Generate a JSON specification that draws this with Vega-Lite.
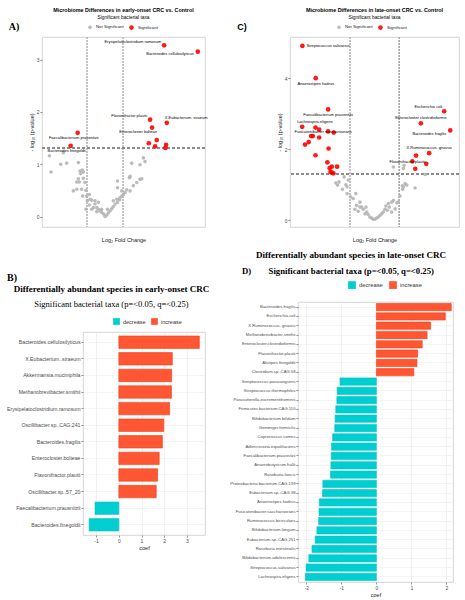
{
  "$schema": "https://vega.github.io/schema/vega-lite/v6.json",
  "padding": {"left": 0, "top": 7, "right": 0, "bottom": 0},
  "background": "white",
  "config": {
    "view": {"stroke": null},
    "font": "Liberation Sans",
    "axis": {"labelFont": "Liberation Sans", "titleFont": "Liberation Sans", "labelColor": "#4d4d4d", "titleColor": "#1a1a1a", "titleFontWeight": "normal", "tickColor": "#4d4d4d", "tickSize": 2, "tickWidth": 0.6, "domain": false, "gridColor": "#ebebeb", "gridWidth": 0.6, "labelFontSize": 5, "titleFontSize": 5.5, "labelPadding": 1, "titlePadding": 2},
    "legend": {"padding": 0, "labelFont": "Liberation Sans"},
    "title": {"font": "Liberation Sans"}
  },
  "resolve": {"scale": {"color": "independent", "size": "independent", "stroke": "independent"}, "legend": {"color": "independent"}},
  "spacing": 18,
  "hconcat": [
    {
      "spacing": 30,
      "resolve": {"scale": {"color": "independent", "size": "independent", "stroke": "independent"}, "legend": {"color": "independent"}},
      "vconcat": [
        {
          "spacing": 0,
          "resolve": {"scale": {"color": "independent", "size": "independent"}, "legend": {"color": "independent"}},
          "hconcat": [
            {"width": 28, "height": 2, "data": {"values": [{"t": "A)"}]}, "mark": {"type": "text", "font": "Liberation Serif", "fontWeight": "bold", "fontSize": 10, "dy": -11, "color": "#000"}, "encoding": {"text": {"field": "t", "type": "nominal"}}},
            {
              "width": 163, "height": 190,
              "view": {"stroke": "#cccccc", "strokeWidth": 0.8},
              "title": {"text": "Microbiome Differences in early-onset CRC vs. Control", "subtitle": "Significant bacterial taxa", "fontSize": 5.4, "fontWeight": "bold", "subtitleFontSize": 4.8, "subtitleColor": "#000", "subtitlePadding": 2, "offset": 4, "anchor": "middle", "frame": "group"},
              "data": {"values": [
                {"lfc": -3.09, "nlp": 1.16, "sig": "Not Significant", "lab": ""},
                {"lfc": -3.0, "nlp": 0.85, "sig": "Not Significant", "lab": ""},
                {"lfc": -2.46, "nlp": 1.0, "sig": "Not Significant", "lab": ""},
                {"lfc": -2.13, "nlp": 1.02, "sig": "Not Significant", "lab": ""},
                {"lfc": -1.48, "nlp": 1.03, "sig": "Not Significant", "lab": ""},
                {"lfc": -2.31, "nlp": 1.22, "sig": "Not Significant", "lab": ""},
                {"lfc": -1.39, "nlp": 0.87, "sig": "Not Significant", "lab": ""},
                {"lfc": -1.26, "nlp": 0.89, "sig": "Not Significant", "lab": ""},
                {"lfc": -1.35, "nlp": 0.82, "sig": "Not Significant", "lab": ""},
                {"lfc": -1.2, "nlp": 0.85, "sig": "Not Significant", "lab": ""},
                {"lfc": -1.48, "nlp": 0.72, "sig": "Not Significant", "lab": ""},
                {"lfc": -1.2, "nlp": 0.73, "sig": "Not Significant", "lab": ""},
                {"lfc": -1.43, "nlp": 0.66, "sig": "Not Significant", "lab": ""},
                {"lfc": -1.11, "nlp": 0.65, "sig": "Not Significant", "lab": ""},
                {"lfc": -1.57, "nlp": 0.66, "sig": "Not Significant", "lab": ""},
                {"lfc": -1.76, "nlp": 0.49, "sig": "Not Significant", "lab": ""},
                {"lfc": -1.57, "nlp": 0.52, "sig": "Not Significant", "lab": ""},
                {"lfc": -1.3, "nlp": 0.52, "sig": "Not Significant", "lab": ""},
                {"lfc": -1.06, "nlp": 0.5, "sig": "Not Significant", "lab": ""},
                {"lfc": -1.24, "nlp": 0.39, "sig": "Not Significant", "lab": ""},
                {"lfc": -1.02, "nlp": 0.39, "sig": "Not Significant", "lab": ""},
                {"lfc": -0.87, "nlp": 0.42, "sig": "Not Significant", "lab": ""},
                {"lfc": -0.83, "nlp": 0.33, "sig": "Not Significant", "lab": ""},
                {"lfc": -0.98, "nlp": 0.3, "sig": "Not Significant", "lab": ""},
                {"lfc": -0.74, "nlp": 0.31, "sig": "Not Significant", "lab": ""},
                {"lfc": -0.56, "nlp": 0.24, "sig": "Not Significant", "lab": ""},
                {"lfc": -0.65, "nlp": 0.17, "sig": "Not Significant", "lab": ""},
                {"lfc": -0.46, "nlp": 0.17, "sig": "Not Significant", "lab": ""},
                {"lfc": -0.37, "nlp": 0.14, "sig": "Not Significant", "lab": ""},
                {"lfc": -0.28, "nlp": 0.11, "sig": "Not Significant", "lab": ""},
                {"lfc": -0.19, "nlp": 0.08, "sig": "Not Significant", "lab": ""},
                {"lfc": -0.09, "nlp": 0.05, "sig": "Not Significant", "lab": ""},
                {"lfc": 0.0, "nlp": 0.0, "sig": "Not Significant", "lab": ""},
                {"lfc": 0.09, "nlp": 0.03, "sig": "Not Significant", "lab": ""},
                {"lfc": 0.19, "nlp": 0.07, "sig": "Not Significant", "lab": ""},
                {"lfc": 0.28, "nlp": 0.11, "sig": "Not Significant", "lab": ""},
                {"lfc": 0.13, "nlp": 0.14, "sig": "Not Significant", "lab": ""},
                {"lfc": 0.37, "nlp": 0.15, "sig": "Not Significant", "lab": ""},
                {"lfc": 0.46, "nlp": 0.19, "sig": "Not Significant", "lab": ""},
                {"lfc": 0.56, "nlp": 0.24, "sig": "Not Significant", "lab": ""},
                {"lfc": 0.46, "nlp": 0.3, "sig": "Not Significant", "lab": ""},
                {"lfc": 0.69, "nlp": 0.27, "sig": "Not Significant", "lab": ""},
                {"lfc": 0.65, "nlp": 0.33, "sig": "Not Significant", "lab": ""},
                {"lfc": 0.8, "nlp": 0.32, "sig": "Not Significant", "lab": ""},
                {"lfc": 0.83, "nlp": 0.36, "sig": "Not Significant", "lab": ""},
                {"lfc": 0.93, "nlp": 0.39, "sig": "Not Significant", "lab": ""},
                {"lfc": 1.02, "nlp": 0.42, "sig": "Not Significant", "lab": ""},
                {"lfc": 0.69, "nlp": 0.55, "sig": "Not Significant", "lab": ""},
                {"lfc": 0.69, "nlp": 0.68, "sig": "Not Significant", "lab": ""},
                {"lfc": 0.93, "nlp": 0.49, "sig": "Not Significant", "lab": ""},
                {"lfc": 1.11, "nlp": 0.46, "sig": "Not Significant", "lab": ""},
                {"lfc": 1.2, "nlp": 0.51, "sig": "Not Significant", "lab": ""},
                {"lfc": 1.39, "nlp": 0.49, "sig": "Not Significant", "lab": ""},
                {"lfc": 1.35, "nlp": 0.74, "sig": "Not Significant", "lab": ""},
                {"lfc": 1.39, "nlp": 0.77, "sig": "Not Significant", "lab": ""},
                {"lfc": 1.57, "nlp": 0.59, "sig": "Not Significant", "lab": ""},
                {"lfc": 1.94, "nlp": 0.71, "sig": "Not Significant", "lab": ""},
                {"lfc": 2.04, "nlp": 0.72, "sig": "Not Significant", "lab": ""},
                {"lfc": 1.48, "nlp": 1.02, "sig": "Not Significant", "lab": ""},
                {"lfc": 1.94, "nlp": 0.99, "sig": "Not Significant", "lab": ""},
                {"lfc": 2.13, "nlp": 1.12, "sig": "Not Significant", "lab": ""},
                {"lfc": 2.22, "nlp": 1.05, "sig": "Not Significant", "lab": ""},
                {"lfc": 1.76, "nlp": 0.65, "sig": "Not Significant", "lab": ""},
                {"lfc": -0.56, "nlp": 0.3, "sig": "Not Significant", "lab": ""},
                {"lfc": -0.37, "nlp": 0.27, "sig": "Not Significant", "lab": ""},
                {"lfc": -0.74, "nlp": 0.14, "sig": "Not Significant", "lab": ""},
                {"lfc": -0.46, "nlp": 0.09, "sig": "Not Significant", "lab": ""},
                {"lfc": -0.19, "nlp": 0.14, "sig": "Not Significant", "lab": ""},
                {"lfc": -0.87, "nlp": 0.22, "sig": "Not Significant", "lab": ""},
                {"lfc": -1.06, "nlp": 0.14, "sig": "Not Significant", "lab": ""},
                {"lfc": 3.28, "nlp": 3.27, "sig": "Significant", "lab": "Erysipelatoclostridium ramosum"},
                {"lfc": 5.15, "nlp": 3.15, "sig": "Significant", "lab": "Bacteroides cellulosilyticus"},
                {"lfc": 2.5, "nlp": 1.85, "sig": "Significant", "lab": "Flavonifractor plautii"},
                {"lfc": 3.43, "nlp": 1.79, "sig": "Significant", "lab": "X.Eubacterium. siraeum"},
                {"lfc": 2.61, "nlp": 1.7, "sig": "Significant", "lab": "Enterocloster bolteae"},
                {"lfc": -1.52, "nlp": 1.6, "sig": "Significant", "lab": "Faecalibacterium prausnitzii"},
                {"lfc": -1.91, "nlp": 1.35, "sig": "Significant", "lab": "Bacteroides finegoldii"},
                {"lfc": 2.43, "nlp": 1.4, "sig": "Significant", "lab": ""},
                {"lfc": 2.87, "nlp": 1.46, "sig": "Significant", "lab": ""},
                {"lfc": 2.78, "nlp": 1.34, "sig": "Significant", "lab": ""},
                {"lfc": 3.39, "nlp": 1.37, "sig": "Significant", "lab": ""},
                {"lfc": 3.35, "nlp": 1.31, "sig": "Significant", "lab": ""}
              ]},
              "layer": [
                {"mark": {"type": "rule", "color": "#c4c4c4", "strokeDash": [1.5, 1.5], "strokeWidth": 0.7}, "encoding": {"x": {"datum": -1, "type": "quantitative"}}},
                {"mark": {"type": "rule", "color": "#c4c4c4", "strokeDash": [1.5, 1.5], "strokeWidth": 0.7}, "encoding": {"x": {"datum": 1, "type": "quantitative"}}},
                {"mark": {"type": "rule", "color": "#8c8c8c", "strokeDash": [3, 2], "strokeWidth": 0.7}, "encoding": {"y": {"datum": 1.301, "type": "quantitative"}}},
                {
                  "mark": {"type": "point", "filled": true, "opacity": 0.9},
                  "encoding": {
                    "x": {"field": "lfc", "type": "quantitative", "scale": {"domain": [-3.5, 5.55], "nice": false, "zero": false},
                      "axis": {"title": "Log₂ Fold Change", "values": [-3, -2, -1, 0, 1, 2, 3, 4, 5], "labelExpr": "datum.value % 2 == 0 ? '' + datum.value : ''", "gridColor": {"condition": {"test": "datum.value % 2 == 0", "value": "#e6e6e6"}, "value": "#f4f4f4"}, "tickColor": {"condition": {"test": "datum.value % 2 == 0", "value": "#4d4d4d"}, "value": "transparent"}}},
                    "y": {"field": "nlp", "type": "quantitative", "scale": {"domain": [-0.2, 3.43], "nice": false, "zero": false},
                      "axis": {"title": "- log₁₀ (p-value)", "values": [0, 0.5, 1, 1.5, 2, 2.5, 3], "labelExpr": "datum.value % 1 == 0 ? '' + datum.value : ''", "gridColor": {"condition": {"test": "datum.value % 1 == 0", "value": "#e6e6e6"}, "value": "#f4f4f4"}, "tickColor": {"condition": {"test": "datum.value % 1 == 0", "value": "#4d4d4d"}, "value": "transparent"}}},
                    "color": {"field": "sig", "type": "nominal", "scale": {"domain": ["Not Significant", "Significant"], "range": ["#b5b5b5", "#ff0000"]},
                      "legend": {"title": null, "orient": "none", "direction": "horizontal", "legendX": 45, "legendY": -13, "labelFontSize": 4.3, "labelColor": "#1a1a1a", "symbolSize": 14, "symbolType": "circle", "columnPadding": 4, "labelOffset": 3}},
                    "size": {"field": "sig", "type": "nominal", "scale": {"domain": ["Not Significant", "Significant"], "range": [13, 22]}, "legend": null}
                  }
                },
                {"transform": [{"filter": {"field": "lab", "oneOf": ["Erysipelatoclostridium ramosum", "Flavonifractor plautii"]}}], "mark": {"type": "text", "fontSize": 4, "align": "right", "dx": -3, "dy": -3.5, "color": "#000"}, "encoding": {"x": {"field": "lfc", "type": "quantitative"}, "y": {"field": "nlp", "type": "quantitative"}, "text": {"field": "lab"}}},
                {"transform": [{"filter": {"field": "lab", "oneOf": ["Bacteroides cellulosilyticus"]}}], "mark": {"type": "text", "fontSize": 4, "align": "right", "dx": -4, "dy": 2.5, "color": "#000"}, "encoding": {"x": {"field": "lfc", "type": "quantitative"}, "y": {"field": "nlp", "type": "quantitative"}, "text": {"field": "lab"}}},
                {"transform": [{"filter": {"field": "lab", "oneOf": ["Enterocloster bolteae"]}}], "mark": {"type": "text", "fontSize": 4, "align": "right", "dx": 5, "dy": 4.5, "color": "#000"}, "encoding": {"x": {"field": "lfc", "type": "quantitative"}, "y": {"field": "nlp", "type": "quantitative"}, "text": {"field": "lab"}}},
                {"transform": [{"filter": {"field": "lab", "oneOf": ["X.Eubacterium. siraeum"]}}], "mark": {"type": "text", "fontSize": 4, "align": "left", "dx": -2, "dy": -5, "color": "#000"}, "encoding": {"x": {"field": "lfc", "type": "quantitative"}, "y": {"field": "nlp", "type": "quantitative"}, "text": {"field": "lab"}}},
                {"transform": [{"filter": {"field": "lab", "oneOf": ["Faecalibacterium prausnitzii", "Bacteroides finegoldii"]}}], "mark": {"type": "text", "fontSize": 4, "align": "center", "dx": -4, "dy": 5, "color": "#000"}, "encoding": {"x": {"field": "lfc", "type": "quantitative"}, "y": {"field": "nlp", "type": "quantitative"}, "text": {"field": "lab"}}}
              ]
            }
          ]
        },
        {
          "spacing": 0,
          "title": {"text": "B)", "anchor": "start", "frame": "bounds", "font": "Liberation Serif", "fontWeight": "bold", "fontSize": 10, "color": "#000", "offset": 1, "dx": 7},
          "resolve": {"scale": {"color": "independent", "stroke": "independent"}, "legend": {"color": "independent"}},
          "hconcat": [
            {"width": 6, "height": 2, "data": {"values": [{"t": ""}]}, "mark": {"type": "text"}, "encoding": {"text": {"field": "t", "type": "nominal"}}},
            {
              "width": 122, "height": 203,
              "view": {"stroke": "#cccccc", "strokeWidth": 0.8},
              "title": {"text": "Differentially abundant species in early-onset CRC", "subtitle": "Significant bacterial taxa (p=<0.05, q=<0.25)", "font": "Liberation Serif", "fontSize": 9, "fontWeight": "bold", "color": "#000", "subtitleFont": "Liberation Serif", "subtitleFontSize": 8.5, "subtitleColor": "#000", "subtitlePadding": 6, "offset": 10, "anchor": "middle", "frame": "group", "dx": -32.5},
              "data": {"values": [
                {"sp": "Bacteroides.cellulosilyticus", "coef": 3.55, "dir": "increase"},
                {"sp": "X.Eubacterium..siraeum", "coef": 2.36, "dir": "increase"},
                {"sp": "Akkermansia.muciniphila", "coef": 2.33, "dir": "increase"},
                {"sp": "Methanobrevibacter.smithii", "coef": 2.32, "dir": "increase"},
                {"sp": "Erysipelatoclostridium.ramosum", "coef": 2.24, "dir": "increase"},
                {"sp": "Oscillibacter.sp..CAG.241", "coef": 1.98, "dir": "increase"},
                {"sp": "Bacteroides.fragilis", "coef": 1.92, "dir": "increase"},
                {"sp": "Enterocloster.bolteae", "coef": 1.78, "dir": "increase"},
                {"sp": "Flavonifractor.plautii", "coef": 1.71, "dir": "increase"},
                {"sp": "Oscillibacter.sp..57_20", "coef": 1.65, "dir": "increase"},
                {"sp": "Faecalibacterium.prausnitzii", "coef": -1.05, "dir": "decrease"},
                {"sp": "Bacteroides.finegoldii", "coef": -1.31, "dir": "decrease"}
              ]},
              "mark": {"type": "bar", "strokeWidth": 0.6},
              "encoding": {
                "y": {"field": "sp", "type": "nominal", "sort": null, "scale": {"paddingInner": 0.25, "paddingOuter": 0.24},
                  "axis": {"title": null, "labelFontSize": 5.2, "labelLimit": 200, "grid": true, "gridColor": "#ececec"}},
                "x": {"field": "coef", "type": "quantitative", "scale": {"domain": [-1.58, 3.8], "nice": false},
                  "axis": {"title": "coef", "values": [-1, 0, 1, 2, 3], "labelExpr": "'' + datum.value", "grid": true, "gridColor": "#e8e8e8"}},
                "color": {"field": "dir", "type": "nominal", "scale": {"domain": ["decrease", "increase"], "range": ["#00ced1", "#ff5733"]},
                  "legend": {"title": null, "orient": "none", "direction": "horizontal", "legendX": 30, "legendY": -14, "symbolType": "square", "symbolSize": 45, "symbolStrokeWidth": 0, "labelFontSize": 5.5, "labelColor": "#333", "labelOffset": 3, "columnPadding": 5}},
                "stroke": {"field": "dir", "type": "nominal", "scale": {"domain": ["decrease", "increase"], "range": ["#00c4c7", "#f03c14"]}, "legend": null}
              }
            }
          ]
        }
      ]
    },
    {
      "spacing": 7,
      "resolve": {"scale": {"color": "independent", "size": "independent", "stroke": "independent"}, "legend": {"color": "independent"}},
      "vconcat": [
        {
          "spacing": 0,
          "resolve": {"scale": {"color": "independent", "size": "independent"}, "legend": {"color": "independent"}},
          "hconcat": [
            {"width": 48, "height": 2, "data": {"values": [{"t": "C)"}]}, "mark": {"type": "text", "font": "Liberation Sans", "fontWeight": "bold", "fontSize": 9, "dx": -10, "dy": -11, "color": "#000"}, "encoding": {"text": {"field": "t", "type": "nominal"}}},
            {
              "width": 169, "height": 190,
              "view": {"stroke": "#cccccc", "strokeWidth": 0.8},
              "title": {"text": "Microbiome Differences in late-onset CRC vs. Control", "subtitle": "Significant bacterial taxa", "fontSize": 5.4, "fontWeight": "bold", "subtitleFontSize": 4.8, "subtitleColor": "#000", "subtitlePadding": 2, "offset": 4, "anchor": "middle", "frame": "group"},
              "data": {"values": [
                {"lfc": -1.24, "nlp": 1.22, "sig": "Not Significant", "lab": ""},
                {"lfc": -1.07, "nlp": 1.13, "sig": "Not Significant", "lab": ""},
                {"lfc": -1.45, "nlp": 1.08, "sig": "Not Significant", "lab": ""},
                {"lfc": -1.51, "nlp": 0.99, "sig": "Not Significant", "lab": ""},
                {"lfc": -1.17, "nlp": 1.0, "sig": "Not Significant", "lab": ""},
                {"lfc": -1.12, "nlp": 0.94, "sig": "Not Significant", "lab": ""},
                {"lfc": -1.31, "nlp": 0.87, "sig": "Not Significant", "lab": ""},
                {"lfc": -1.12, "nlp": 0.75, "sig": "Not Significant", "lab": ""},
                {"lfc": -0.98, "nlp": 0.66, "sig": "Not Significant", "lab": ""},
                {"lfc": -0.76, "nlp": 0.75, "sig": "Not Significant", "lab": ""},
                {"lfc": -0.87, "nlp": 0.61, "sig": "Not Significant", "lab": ""},
                {"lfc": -0.59, "nlp": 0.51, "sig": "Not Significant", "lab": ""},
                {"lfc": -0.73, "nlp": 0.42, "sig": "Not Significant", "lab": ""},
                {"lfc": -0.59, "nlp": 0.37, "sig": "Not Significant", "lab": ""},
                {"lfc": -0.8, "nlp": 0.31, "sig": "Not Significant", "lab": ""},
                {"lfc": -0.66, "nlp": 0.25, "sig": "Not Significant", "lab": ""},
                {"lfc": -0.45, "nlp": 0.31, "sig": "Not Significant", "lab": ""},
                {"lfc": -0.31, "nlp": 0.23, "sig": "Not Significant", "lab": ""},
                {"lfc": -0.38, "nlp": 0.18, "sig": "Not Significant", "lab": ""},
                {"lfc": -0.25, "nlp": 0.16, "sig": "Not Significant", "lab": ""},
                {"lfc": -0.18, "nlp": 0.09, "sig": "Not Significant", "lab": ""},
                {"lfc": -0.11, "nlp": 0.06, "sig": "Not Significant", "lab": ""},
                {"lfc": -0.04, "nlp": 0.03, "sig": "Not Significant", "lab": ""},
                {"lfc": 0.03, "nlp": 0.03, "sig": "Not Significant", "lab": ""},
                {"lfc": 0.1, "nlp": 0.06, "sig": "Not Significant", "lab": ""},
                {"lfc": 0.17, "nlp": 0.09, "sig": "Not Significant", "lab": ""},
                {"lfc": 0.24, "nlp": 0.14, "sig": "Not Significant", "lab": ""},
                {"lfc": 0.31, "nlp": 0.18, "sig": "Not Significant", "lab": ""},
                {"lfc": 0.37, "nlp": 0.23, "sig": "Not Significant", "lab": ""},
                {"lfc": 0.44, "nlp": 0.31, "sig": "Not Significant", "lab": ""},
                {"lfc": 0.48, "nlp": 0.4, "sig": "Not Significant", "lab": ""},
                {"lfc": 0.58, "nlp": 0.47, "sig": "Not Significant", "lab": ""},
                {"lfc": 0.62, "nlp": 0.37, "sig": "Not Significant", "lab": ""},
                {"lfc": 0.72, "nlp": 0.51, "sig": "Not Significant", "lab": ""},
                {"lfc": 0.79, "nlp": 0.56, "sig": "Not Significant", "lab": ""},
                {"lfc": 0.93, "nlp": 0.49, "sig": "Not Significant", "lab": ""},
                {"lfc": 0.54, "nlp": 0.28, "sig": "Not Significant", "lab": ""},
                {"lfc": 0.79, "nlp": 1.5, "sig": "Not Significant", "lab": ""},
                {"lfc": 1.23, "nlp": 1.55, "sig": "Not Significant", "lab": ""},
                {"lfc": 1.2, "nlp": 1.46, "sig": "Not Significant", "lab": ""},
                {"lfc": 1.27, "nlp": 1.03, "sig": "Not Significant", "lab": ""},
                {"lfc": 1.34, "nlp": 0.99, "sig": "Not Significant", "lab": ""},
                {"lfc": 1.2, "nlp": 0.94, "sig": "Not Significant", "lab": ""},
                {"lfc": 1.17, "nlp": 0.87, "sig": "Not Significant", "lab": ""},
                {"lfc": 1.68, "nlp": 0.91, "sig": "Not Significant", "lab": ""},
                {"lfc": 1.06, "nlp": 0.68, "sig": "Not Significant", "lab": ""},
                {"lfc": 0.99, "nlp": 0.51, "sig": "Not Significant", "lab": ""},
                {"lfc": 2.1, "nlp": 1.29, "sig": "Not Significant", "lab": ""},
                {"lfc": 0.86, "nlp": 0.32, "sig": "Not Significant", "lab": ""},
                {"lfc": 0.72, "nlp": 0.23, "sig": "Not Significant", "lab": ""},
                {"lfc": -0.52, "nlp": 0.37, "sig": "Not Significant", "lab": ""},
                {"lfc": -0.34, "nlp": 0.37, "sig": "Not Significant", "lab": ""},
                {"lfc": -1.58, "nlp": 1.05, "sig": "Not Significant", "lab": ""},
                {"lfc": 1.16, "nlp": 0.97, "sig": "Not Significant", "lab": ""},
                {"lfc": -2.96, "nlp": 4.91, "sig": "Significant", "lab": "Streptococcus salivarius"},
                {"lfc": -2.41, "nlp": 4.0, "sig": "Significant", "lab": "Anaerostipes hadrus"},
                {"lfc": -1.9, "nlp": 3.12, "sig": "Significant", "lab": "Faecalibacterium prausnitzii"},
                {"lfc": -2.97, "nlp": 2.63, "sig": "Significant", "lab": "Lachnospira eligens"},
                {"lfc": -2.42, "nlp": 2.61, "sig": "Significant", "lab": ""},
                {"lfc": -2.27, "nlp": 2.55, "sig": "Significant", "lab": ""},
                {"lfc": -1.9, "nlp": 2.5, "sig": "Significant", "lab": "Fusicatenibacter saccharivorans"},
                {"lfc": -1.67, "nlp": 2.47, "sig": "Significant", "lab": ""},
                {"lfc": -2.53, "nlp": 2.37, "sig": "Significant", "lab": ""},
                {"lfc": -2.6, "nlp": 2.37, "sig": "Significant", "lab": ""},
                {"lfc": -2.27, "nlp": 2.33, "sig": "Significant", "lab": ""},
                {"lfc": -2.7, "nlp": 2.2, "sig": "Significant", "lab": ""},
                {"lfc": -2.85, "nlp": 2.13, "sig": "Significant", "lab": ""},
                {"lfc": -1.88, "nlp": 2.02, "sig": "Significant", "lab": ""},
                {"lfc": -2.42, "nlp": 1.83, "sig": "Significant", "lab": ""},
                {"lfc": -1.93, "nlp": 1.63, "sig": "Significant", "lab": ""},
                {"lfc": -1.75, "nlp": 1.51, "sig": "Significant", "lab": ""},
                {"lfc": -1.84, "nlp": 1.47, "sig": "Significant", "lab": ""},
                {"lfc": -1.53, "nlp": 1.51, "sig": "Significant", "lab": ""},
                {"lfc": -1.75, "nlp": 1.34, "sig": "Significant", "lab": ""},
                {"lfc": -1.68, "nlp": 1.32, "sig": "Significant", "lab": ""},
                {"lfc": -1.8, "nlp": 1.36, "sig": "Significant", "lab": ""},
                {"lfc": 2.88, "nlp": 3.07, "sig": "Significant", "lab": "Escherichia coli"},
                {"lfc": 3.13, "nlp": 2.53, "sig": "Significant", "lab": "Bacteroides fragilis"},
                {"lfc": 1.92, "nlp": 2.73, "sig": "Significant", "lab": "Enterocloster clostridioformis"},
                {"lfc": 2.26, "nlp": 1.89, "sig": "Significant", "lab": "X.Ruminococcus. gnavus"},
                {"lfc": 1.72, "nlp": 1.82, "sig": "Significant", "lab": ""},
                {"lfc": 1.57, "nlp": 1.66, "sig": "Significant", "lab": "Flavonifractor plautii"},
                {"lfc": 2.14, "nlp": 1.59, "sig": "Significant", "lab": ""},
                {"lfc": 1.69, "nlp": 1.45, "sig": "Significant", "lab": ""}
              ]},
              "layer": [
                {"mark": {"type": "rule", "color": "#c4c4c4", "strokeDash": [1.5, 1.5], "strokeWidth": 0.7}, "encoding": {"x": {"datum": -1, "type": "quantitative"}}},
                {"mark": {"type": "rule", "color": "#c4c4c4", "strokeDash": [1.5, 1.5], "strokeWidth": 0.7}, "encoding": {"x": {"datum": 1, "type": "quantitative"}}},
                {"mark": {"type": "rule", "color": "#8c8c8c", "strokeDash": [3, 2], "strokeWidth": 0.7}, "encoding": {"y": {"datum": 1.301, "type": "quantitative"}}},
                {
                  "mark": {"type": "point", "filled": true, "opacity": 0.9},
                  "encoding": {
                    "x": {"field": "lfc", "type": "quantitative", "scale": {"domain": [-3.47, 3.49], "nice": false, "zero": false},
                      "axis": {"title": "Log₂ Fold Change", "values": [-3, -2, -1, 0, 1, 2, 3], "labelExpr": "datum.value % 2 == 0 ? '' + datum.value : ''", "gridColor": {"condition": {"test": "datum.value % 2 == 0", "value": "#e6e6e6"}, "value": "#f4f4f4"}, "tickColor": {"condition": {"test": "datum.value % 2 == 0", "value": "#4d4d4d"}, "value": "transparent"}}},
                    "y": {"field": "nlp", "type": "quantitative", "scale": {"domain": [-0.19, 5.16], "nice": false, "zero": false},
                      "axis": {"title": "- log₁₀ (p-value)", "values": [0, 0.5, 1, 1.5, 2, 2.5, 3, 3.5, 4, 4.5, 5], "labelExpr": "datum.value % 1 == 0 ? '' + datum.value : ''", "gridColor": {"condition": {"test": "datum.value % 1 == 0", "value": "#e6e6e6"}, "value": "#f4f4f4"}, "tickColor": {"condition": {"test": "datum.value % 1 == 0", "value": "#4d4d4d"}, "value": "transparent"}}},
                    "color": {"field": "sig", "type": "nominal", "scale": {"domain": ["Not Significant", "Significant"], "range": ["#b5b5b5", "#ff0000"]},
                      "legend": {"title": null, "orient": "none", "direction": "horizontal", "legendX": 46, "legendY": -13, "labelFontSize": 4.3, "labelColor": "#1a1a1a", "symbolSize": 14, "symbolType": "circle", "columnPadding": 4, "labelOffset": 3}},
                    "size": {"field": "sig", "type": "nominal", "scale": {"domain": ["Not Significant", "Significant"], "range": [13, 22]}, "legend": null}
                  }
                },
                {"transform": [{"filter": {"field": "lab", "oneOf": ["Streptococcus salivarius"]}}], "mark": {"type": "text", "fontSize": 4, "align": "left", "dx": 4, "dy": 0.5, "color": "#000"}, "encoding": {"x": {"field": "lfc", "type": "quantitative"}, "y": {"field": "nlp", "type": "quantitative"}, "text": {"field": "lab"}}},
                {"transform": [{"filter": {"field": "lab", "oneOf": ["Anaerostipes hadrus", "Faecalibacterium prausnitzii"]}}], "mark": {"type": "text", "fontSize": 4, "align": "center", "dy": 5.5, "color": "#000"}, "encoding": {"x": {"field": "lfc", "type": "quantitative"}, "y": {"field": "nlp", "type": "quantitative"}, "text": {"field": "lab"}}},
                {"transform": [{"filter": {"field": "lab", "oneOf": ["Lachnospira eligens"]}}], "mark": {"type": "text", "fontSize": 4, "align": "left", "dx": -5, "dy": -5, "color": "#000"}, "encoding": {"x": {"field": "lfc", "type": "quantitative"}, "y": {"field": "nlp", "type": "quantitative"}, "text": {"field": "lab"}}},
                {"transform": [{"filter": {"field": "lab", "oneOf": ["Fusicatenibacter saccharivorans", "Flavonifractor plautii"]}}], "mark": {"type": "text", "fontSize": 4, "align": "center", "dx": -5, "dy": 0.5, "color": "#000"}, "encoding": {"x": {"field": "lfc", "type": "quantitative"}, "y": {"field": "nlp", "type": "quantitative"}, "text": {"field": "lab"}}},
                {"transform": [{"filter": {"field": "lab", "oneOf": ["Escherichia coli"]}}], "mark": {"type": "text", "fontSize": 4, "align": "right", "dx": -2, "dy": -4, "color": "#000"}, "encoding": {"x": {"field": "lfc", "type": "quantitative"}, "y": {"field": "nlp", "type": "quantitative"}, "text": {"field": "lab"}}},
                {"transform": [{"filter": {"field": "lab", "oneOf": ["Enterocloster clostridioformis", "X.Ruminococcus. gnavus"]}}], "mark": {"type": "text", "fontSize": 4, "align": "center", "dy": -5, "color": "#000"}, "encoding": {"x": {"field": "lfc", "type": "quantitative"}, "y": {"field": "nlp", "type": "quantitative"}, "text": {"field": "lab"}}},
                {"transform": [{"filter": {"field": "lab", "oneOf": ["Bacteroides fragilis"]}}], "mark": {"type": "text", "fontSize": 4, "align": "right", "dx": -4, "dy": 3.5, "color": "#000"}, "encoding": {"x": {"field": "lfc", "type": "quantitative"}, "y": {"field": "nlp", "type": "quantitative"}, "text": {"field": "lab"}}}
              ]
            }
          ]
        },
        {
          "spacing": 0,
          "resolve": {"scale": {"color": "independent", "stroke": "independent"}, "legend": {"color": "independent"}},
          "hconcat": [
            {"width": 1, "height": 2, "data": {"values": [{"t": ""}]}, "mark": {"type": "text"}, "encoding": {"text": {"field": "t", "type": "nominal"}}},
            {
              "width": 155, "height": 280,
              "view": {"stroke": "#cccccc", "strokeWidth": 0.8},
              "title": {"text": "Differentially abundant species in late-onset CRC", "subtitle": "D)\u00a0\u00a0\u00a0\u00a0\u00a0\u00a0\u00a0\u00a0Significant bacterial taxa (p=<0.05, q=<0.25)\u00a0\u00a0\u00a0\u00a0\u00a0\u00a0\u00a0\u00a0\u00a0\u00a0\u00a0\u00a0\u200b", "font": "Liberation Serif", "fontSize": 9, "fontWeight": "bold", "color": "#000", "subtitleFont": "Liberation Serif", "subtitleFontSize": 8.7, "subtitleFontWeight": "bold", "subtitleColor": "#000", "subtitlePadding": 7, "offset": 5, "anchor": "middle", "frame": "group", "dx": -24.5},
              "data": {"values": [
                {"sp": "Bacteroides.fragilis", "coef": 2.14, "dir": "increase"},
                {"sp": "Escherichia.coli", "coef": 1.97, "dir": "increase"},
                {"sp": "X.Ruminococcus..gnavus", "coef": 1.55, "dir": "increase"},
                {"sp": "Methanobrevibacter.smithii", "coef": 1.45, "dir": "increase"},
                {"sp": "Enterocloster.clostridioformis", "coef": 1.31, "dir": "increase"},
                {"sp": "Flavonifractor.plautii", "coef": 1.18, "dir": "increase"},
                {"sp": "Alistipes.finegoldii", "coef": 1.16, "dir": "increase"},
                {"sp": "Clostridium.sp..CAG.58", "coef": 1.07, "dir": "increase"},
                {"sp": "Streptococcus.parasanguinis", "coef": -1.04, "dir": "decrease"},
                {"sp": "Streptococcus.thermophilus", "coef": -1.12, "dir": "decrease"},
                {"sp": "Parasutterella.excrementihominis", "coef": -1.13, "dir": "decrease"},
                {"sp": "Firmicutes.bacterium.CAG.110", "coef": -1.16, "dir": "decrease"},
                {"sp": "Bifidobacterium.bifidum", "coef": -1.18, "dir": "decrease"},
                {"sp": "Gemmiger.formicilis", "coef": -1.19, "dir": "decrease"},
                {"sp": "Coprococcus.comes", "coef": -1.25, "dir": "decrease"},
                {"sp": "Adlercreutzia.equolifaciens", "coef": -1.28, "dir": "decrease"},
                {"sp": "Faecalibacterium.prausnitzii", "coef": -1.29, "dir": "decrease"},
                {"sp": "Anaerobutyricum.hallii", "coef": -1.3, "dir": "decrease"},
                {"sp": "Roseburia.faecis", "coef": -1.31, "dir": "decrease"},
                {"sp": "Proteobacteria.bacterium.CAG.139", "coef": -1.53, "dir": "decrease"},
                {"sp": "Eubacterium.sp..CAG.38", "coef": -1.54, "dir": "decrease"},
                {"sp": "Anaerostipes.hadrus", "coef": -1.63, "dir": "decrease"},
                {"sp": "Fusicatenibacter.saccharivorans", "coef": -1.64, "dir": "decrease"},
                {"sp": "Ruminococcus.bicirculans", "coef": -1.65, "dir": "decrease"},
                {"sp": "Bifidobacterium.longum", "coef": -1.7, "dir": "decrease"},
                {"sp": "Eubacterium.sp..CAG.251", "coef": -1.75, "dir": "decrease"},
                {"sp": "Roseburia.intestinalis", "coef": -1.84, "dir": "decrease"},
                {"sp": "Bifidobacterium.adolescentis", "coef": -1.93, "dir": "decrease"},
                {"sp": "Streptococcus.salivarius", "coef": -2.01, "dir": "decrease"},
                {"sp": "Lachnospira.eligens", "coef": -2.03, "dir": "decrease"}
              ]},
              "mark": {"type": "bar", "strokeWidth": 0.6},
              "encoding": {
                "y": {"field": "sp", "type": "nominal", "sort": null, "scale": {"paddingInner": 0.22, "paddingOuter": 0.16},
                  "axis": {"title": null, "labelFontSize": 4.2, "labelLimit": 200, "grid": true, "gridColor": "#ececec"}},
                "x": {"field": "coef", "type": "quantitative", "scale": {"domain": [-2.24, 2.19], "nice": false},
                  "axis": {"title": "coef", "values": [-2, -1, 0, 1, 2], "labelExpr": "'' + datum.value", "grid": true, "gridColor": "#e8e8e8"}},
                "color": {"field": "dir", "type": "nominal", "scale": {"domain": ["decrease", "increase"], "range": ["#00ced1", "#ff5733"]},
                  "legend": {"title": null, "orient": "none", "direction": "horizontal", "legendX": 50, "legendY": -21, "symbolType": "square", "symbolSize": 60, "symbolStrokeWidth": 0, "labelFontSize": 5.8, "labelColor": "#333", "labelOffset": 3, "columnPadding": 6}},
                "stroke": {"field": "dir", "type": "nominal", "scale": {"domain": ["decrease", "increase"], "range": ["#00c4c7", "#f03c14"]}, "legend": null}
              }
            }
          ]
        }
      ]
    }
  ]
}
